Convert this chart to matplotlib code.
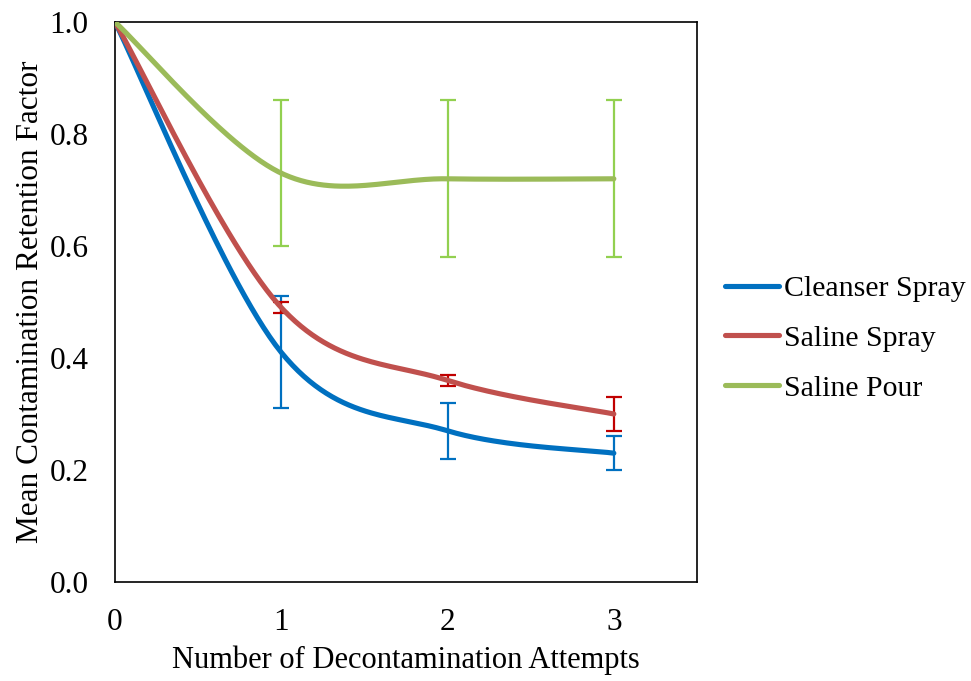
import numpy as np
import matplotlib.pyplot as plt
from matplotlib.lines import Line2D

attempts = [0, 1, 2, 3]
series_names = ["Cleanser Spray", "Saline Spray", "Saline Pour"]
cleanser_spray = [1.0, 0.41, 0.27, 0.23]
cleanser_err = [0.0, 0.10, 0.05, 0.03]
saline_spray = [1.0, 0.49, 0.36, 0.30]
saline_spray_err = [0.0, 0.01, 0.01, 0.03]
saline_pour = [1.0, 0.73, 0.72, 0.72]
saline_pour_err = [0.0, 0.13, 0.14, 0.14]

line_colors = ["#0070C0", "#C0504D", "#9BBB59"]
err_colors = ["#0070C0", "#C00000", "#92D050"]


def excel_smooth(x, y, n=60):
    # Bezier segments with Catmull-Rom style control points (like Excel's smoothed line)
    p = np.column_stack([x, y]).astype(float)
    out = []
    for i in range(len(p) - 1):
        p0 = p[i - 1] if i > 0 else p[i]
        p1 = p[i]
        p2 = p[i + 1]
        p3 = p[i + 2] if i + 2 < len(p) else p[i + 1]
        c1 = p1 + (p2 - p0) / 6.0
        c2 = p2 - (p3 - p1) / 6.0
        t = np.linspace(0, 1, n)[:, None]
        seg = ((1 - t) ** 3) * p1 + 3 * ((1 - t) ** 2) * t * c1 + 3 * (1 - t) * t ** 2 * c2 + t ** 3 * p2
        out.append(seg if i == 0 else seg[1:])
    out = np.vstack(out)
    return out[:, 0], out[:, 1]


plt.rcParams["font.family"] = ["Liberation Serif", "DejaVu Serif"]

fig = plt.figure(figsize=(9.71, 6.81), dpi=100, facecolor="white")
ax = fig.add_axes([0.1184, 0.1454, 0.5994, 0.8223])

data = [(cleanser_spray, cleanser_err), (saline_spray, saline_spray_err), (saline_pour, saline_pour_err)]
for (vals, errs), lc, ec in zip(data, line_colors, err_colors):
    ax.errorbar(attempts[1:], vals[1:], yerr=errs[1:], fmt="none", ecolor=ec,
                elinewidth=1.6, capsize=5.5, capthick=1.6, zorder=2)

for (vals, errs), lc in zip(data, line_colors):
    sx, sy = excel_smooth(attempts, vals)
    ax.plot(sx, sy, color=lc, lw=3.7, solid_capstyle="round", zorder=3)

ax.set_xlim(0, 3.5)
ax.set_ylim(0, 1.0)
ax.set_xticks([0, 1, 2, 3])
ax.set_yticks(np.arange(0, 1.01, 0.2))
ax.set_yticklabels([f"{v:.1f}" for v in np.arange(0, 1.01, 0.2)])
ax.tick_params(length=0, labelsize=22.5)
ax.tick_params(axis="x", pad=19)
ax.tick_params(axis="y", pad=19)
for s in ax.spines.values():
    s.set_linewidth(1.2)
    s.set_color("black")

ax.set_xlabel("Number of Decontamination Attempts", fontsize=22, labelpad=6)
ax.set_ylabel("Mean Contamination Retention Factor", fontsize=22.5, labelpad=3)

handles = [Line2D([0], [0], color=c, lw=3.7, solid_capstyle="round") for c in line_colors]
fig.legend(handles, series_names, loc="center left", bbox_to_anchor=(0.7466, 0.503),
           frameon=False, fontsize=21.5, handlelength=1.8, handletextpad=0.18,
           labelspacing=0.76, borderpad=0, borderaxespad=0)

fig.savefig("out.png", dpi=100, facecolor="white")
